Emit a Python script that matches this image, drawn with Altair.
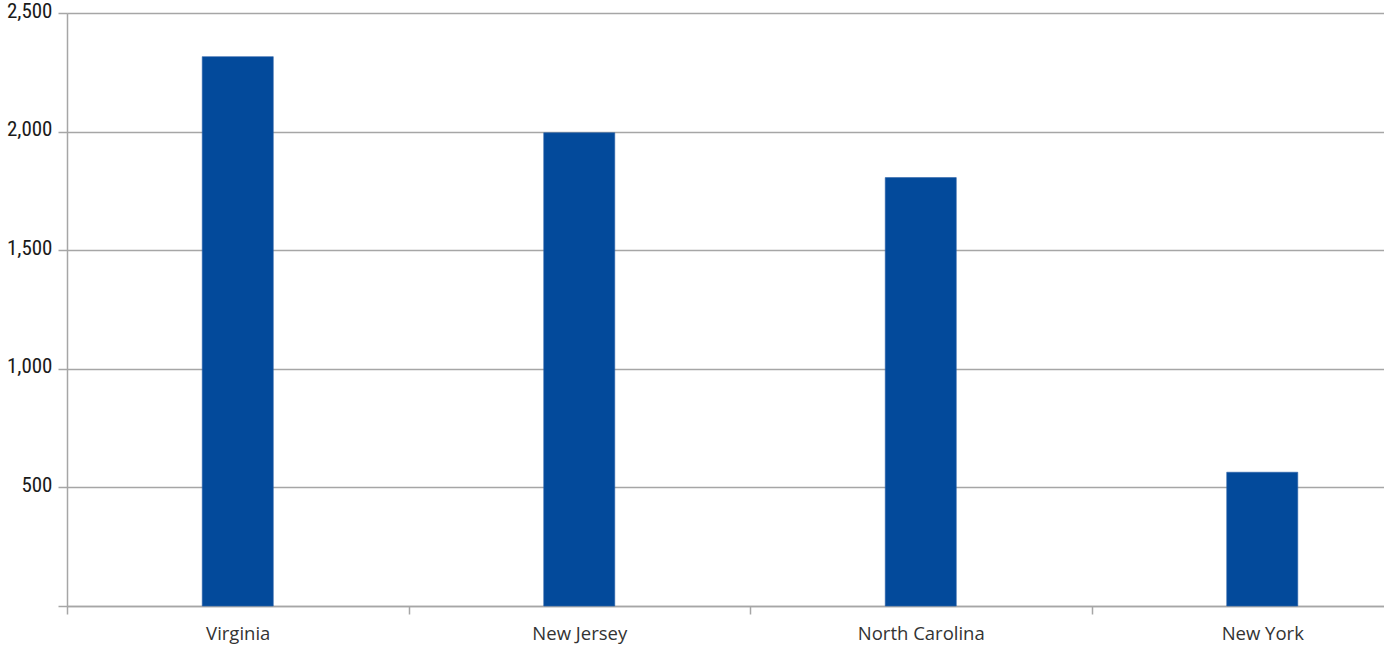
import altair as alt
import pandas as pd

states = ["Virginia", "New Jersey", "North Carolina", "New York"]
values = [2316, 1995, 1806, 564]

df = pd.DataFrame({"state": states, "value": values})

GRID = "#a6a6a6"
NARROW = "Roboto Condensed, DejaVu Sans Condensed, Liberation Sans Narrow, Arial Narrow, Roboto"

chart = (
    alt.Chart(df)
    .mark_bar(color="#034a9b", stroke="#2a62a8", strokeWidth=0.6,
              width=alt.RelativeBandSize(0.208))
    .encode(
        x=alt.X(
            "state:N",
            sort=states,
            title=None,
            scale=alt.Scale(range=[0, 1366], paddingInner=0, paddingOuter=0),
            axis=alt.Axis(
                labelAngle=0,
                labelFont="Open Sans",
                labelFontSize=18.5,
                labelColor="#333333",
                labelPadding=10,
                tickBand="extent",
                tickSize=8,
                tickColor=GRID,
                tickWidth=1.5,
                domainColor=GRID,
                domainWidth=1.5,
                grid=False,
            ),
        ),
        y=alt.Y(
            "value:Q",
            title=None,
            scale=alt.Scale(domain=[0, 2500], nice=False),
            axis=alt.Axis(
                values=[0, 500, 1000, 1500, 2000, 2500],
                labelExpr="datum.value == 0 ? '' : format(datum.value, ',')",
                labelFont=NARROW,
                labelFontSize=21,
                labelColor="#1a1a1a",
                labelPadding=6,
                labelBaseline="middle",
                labelOffset=-2,
                tickSize=9,
                tickColor=GRID,
                tickWidth=1.5,
                domainColor=GRID,
                domainWidth=1.5,
                gridColor=GRID,
                gridWidth=1.5,
                gridOpacity=1,
            ),
        ),
    )
    .properties(
        width=1317,
        height=593,
        autosize=alt.AutoSizeParams(type="none"),
        padding={"left": 67, "top": 13, "right": 0, "bottom": 44},
    )
    .configure_view(stroke=None)
    .configure(background="white")
)

chart.save("out.html", embed_options={"renderer": "svg", "actions": False})
